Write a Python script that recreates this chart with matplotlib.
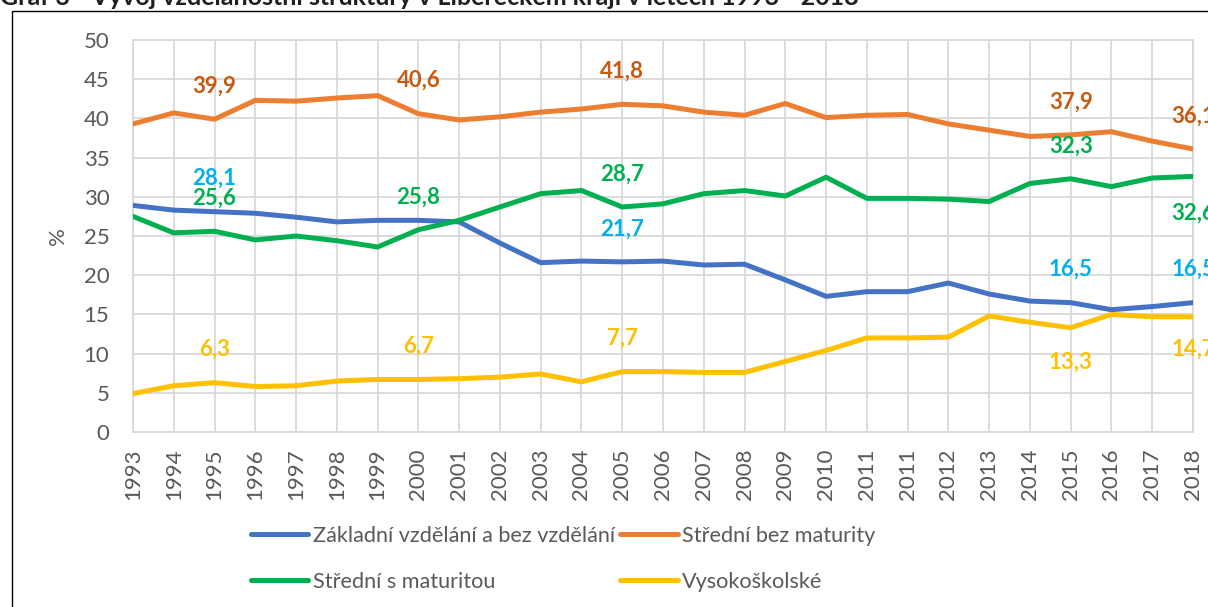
import matplotlib
matplotlib.use("Agg")
import matplotlib.pyplot as plt
from matplotlib.patches import Rectangle
from matplotlib.lines import Line2D

plt.rcParams['font.family'] = ['Lato', 'DejaVu Sans']

years = ['1993', '1994', '1995', '1996', '1997', '1998', '1999', '2000', '2001',
         '2002', '2003', '2004', '2005', '2006', '2007', '2008', '2009', '2010',
         '2011', '2011', '2012', '2013', '2014', '2015', '2016', '2017', '2018']

zakladni = [28.9, 28.3, 28.1, 27.9, 27.4, 26.8, 27.0, 27.0, 26.8, 24.1, 21.6, 21.8, 21.7,
            21.8, 21.3, 21.4, 19.4, 17.3, 17.9, 17.9, 19.0, 17.6, 16.7, 16.5, 15.6, 16.0, 16.5]
stredni_bez = [39.3, 40.7, 39.9, 42.3, 42.2, 42.6, 42.9, 40.6, 39.8, 40.2, 40.8, 41.2, 41.8,
               41.6, 40.8, 40.4, 41.9, 40.1, 40.4, 40.5, 39.3, 38.5, 37.7, 37.9, 38.3, 37.1, 36.1]
stredni_s = [27.5, 25.4, 25.6, 24.5, 25.0, 24.4, 23.6, 25.8, 27.0, 28.7, 30.4, 30.8, 28.7,
             29.1, 30.4, 30.8, 30.1, 32.5, 29.8, 29.8, 29.7, 29.4, 31.7, 32.3, 31.3, 32.4, 32.6]
vysokoskolske = [4.9, 5.9, 6.3, 5.8, 5.9, 6.5, 6.7, 6.7, 6.8, 7.0, 7.4, 6.4, 7.7,
                 7.7, 7.6, 7.6, 9.0, 10.4, 12.0, 12.0, 12.1, 14.8, 14.0, 13.3, 15.0, 14.7, 14.7]

series_names = ['Základní vzdělání a bez vzdělání', 'Střední bez maturity',
                'Střední s maturitou', 'Vysokoškolské']
line_colors = ['#4472C4', '#ED7D31', '#00B050', '#FFC000']
label_colors = ['#00B0F0', '#C55A11', '#00B050', '#FFC000']
# indices of labelled points and vertical offset (pixels, + = above)
label_specs = [
    [(2, 33), (12, 33), (23, 33), (26, 33)],
    [(2, 33), (7, 33), (12, 33), (23, 33), (26, 33)],
    [(2, 33), (7, 33), (12, 33), (23, 33), (26, -37)],
    [(2, 33), (7, 33), (12, 33), (23, -34), (26, -32)],
]

W, H = 1208, 607
fig = plt.figure(figsize=(W / 100, H / 100), dpi=100)
ax = fig.add_axes([133 / W, 1 - 432 / H, (1193 - 133) / W, (432 - 40) / H])

x = list(range(len(years)))
data = [zakladni, stredni_bez, stredni_s, vysokoskolske]
for vals, name, lc in zip(data, series_names, line_colors):
    ax.plot(x, vals, color=lc, lw=3.6, label=name, solid_joinstyle='round', zorder=3)

for vals, specs, tc in zip(data, label_specs, label_colors):
    for i, dy in specs:
        ax.annotate(f"{vals[i]:.1f}".replace('.', ','), (x[i], vals[i]),
                    xytext=(0, dy * 0.72), textcoords='offset points',
                    ha='center', va='center', color=tc, fontsize=16,
                    fontweight='bold', annotation_clip=False, zorder=4)

ax.set_xlim(0, len(years) - 1)
ax.set_ylim(0, 50)
ax.set_yticks(range(0, 51, 5))
ax.set_xticks(x)
ax.set_xticklabels(years, rotation=90)
ax.grid(True, color='#D9D9D9', lw=1.3, zorder=0)
ax.set_axisbelow(True)
for s in ax.spines.values():
    s.set_color('#D9D9D9')
    s.set_linewidth(1.3)
ax.tick_params(axis='y', length=0, pad=17, labelsize=16, labelcolor='#595959')
ax.tick_params(axis='x', length=0, pad=12, labelsize=16, labelcolor='#595959')
ax.set_ylabel('%', fontsize=16, color='#595959', labelpad=11)

handles = [Line2D([], [], color=line_colors[k], lw=3.6, solid_capstyle='round') for k in [0, 2, 1, 3]]
labels = [series_names[k] for k in [0, 2, 1, 3]]
fig.legend(handles, labels, ncol=2, loc='upper left',
           bbox_to_anchor=(251 / W, 1 - 526 / H), frameon=False,
           fontsize=15.6, labelcolor='#595959', handlelength=2.65, handletextpad=0.2,
           columnspacing=0.25, labelspacing=1.2, borderpad=0, borderaxespad=0)

fig.text(0, 1 - 5 / H, 'Graf 3 - Vývoj vzdělanostní struktury v Libereckém kraji v letech 1993 - 2018',
         fontsize=18, fontweight='bold', color='#1F1F1F', ha='left', va='baseline')

fig.patches.append(Rectangle((12 / W, -0.1), 1.2, 1.1 - 11 / H, transform=fig.transFigure,
                             fill=False, edgecolor='black', lw=1.0))

fig.savefig('out.png', dpi=100)
